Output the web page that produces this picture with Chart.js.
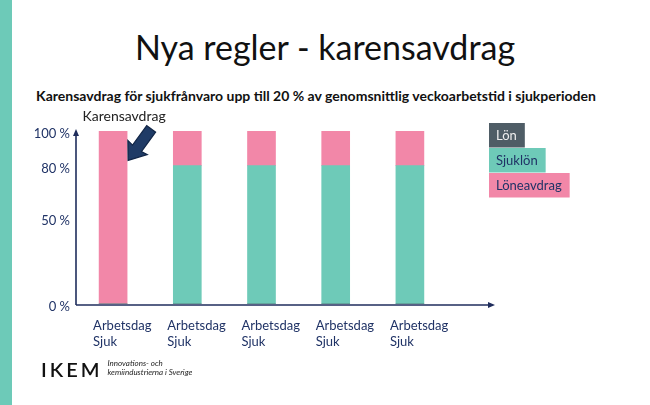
<!DOCTYPE html>
<html lang="sv">
<head>
<meta charset="UTF-8">
<title>Nya regler - karensavdrag</title>
<script src="https://cdn.jsdelivr.net/npm/chart.js"></script>
<style>
    body {
        margin: 0;
        width: 650px;
        height: 405px;
        position: relative;
        overflow: hidden;
        background: #fff;
        font-family: Lato, "Open Sans", sans-serif;
    }
    .stripe {
        position: absolute;
        left: 0; top: 0;
        width: 12px; height: 405px;
        background: #6dcab8;
    }
    h1 {
        position: absolute;
        left: 0; top: 26px;
        width: 650px;
        margin: 0;
        text-align: center;
        font-weight: normal;
        font-size: 34px;
        color: #111;
    }
    h2 {
        position: absolute;
        left: 32px; top: 87px;
        width: 568px;
        margin: 0;
        text-align: center;
        font-size: 14px;
        font-weight: bold;
        color: #111;
        white-space: nowrap;
    }
    #chart {
        position: absolute;
        left: 0; top: 0;
    }
    .logo {
        position: absolute;
        left: 41px; top: 357px;
        display: flex;
        align-items: center;
    }
    .logo .name {
        font-size: 20px;
        font-weight: 600;
        letter-spacing: 3px;
        color: #111;
    }
    .logo .tag {
        margin-left: 5px;
        margin-top: -3px;
        font-size: 8px;
        font-style: italic;
        line-height: 9px;
        color: #222;
    }
</style>
</head>
<body>
    <div class="stripe"></div>
    <h1>Nya regler - karensavdrag</h1>
    <h2>Karensavdrag för sjukfrånvaro upp till 20 % av genomsnittlig veckoarbetstid i sjukperioden</h2>
    <canvas id="chart" width="650" height="405"></canvas>
    <div class="logo">
        <span class="name">IKEM</span>
        <span class="tag">Innovations- och<br>kemiindustrierna i Sverige</span>
    </div>

<script>
    // data
    var categories = [['Arbetsdag', 'Sjuk'], ['Arbetsdag', 'Sjuk'], ['Arbetsdag', 'Sjuk'], ['Arbetsdag', 'Sjuk'], ['Arbetsdag', 'Sjuk']];
    var lon = [0, 0, 0, 0, 0];
    var sjuklon = [0, 80, 80, 80, 80];
    var loneavdrag = [100, 20, 20, 20, 20];
    var yTicks = [0, 50, 80, 100];
    var arrowLabel = 'Karensavdrag';

    var navy = '#1f2d5c';
    var textNavy = '#203366';

    // axes with arrow heads, the "Karensavdrag" pointer and the boxed legend
    var slidePlugin = {
        id: 'slide',
        afterDraw: function(chart) {
            var ctx = chart.ctx;
            var a = chart.chartArea;
            var x = chart.scales.x;
            var y = chart.scales.y;
            ctx.save();

            // y axis
            var ax = a.left;
            var base = a.bottom + 1;
            var top = y.getPixelForValue(100);
            ctx.strokeStyle = navy;
            ctx.fillStyle = navy;
            ctx.lineWidth = 1.6;
            ctx.beginPath();
            ctx.moveTo(ax, base);
            ctx.lineTo(ax, top + 3);
            ctx.stroke();
            ctx.beginPath();
            ctx.moveTo(ax, top - 2);
            ctx.lineTo(ax - 3, top + 5);
            ctx.lineTo(ax + 3, top + 5);
            ctx.closePath();
            ctx.fill();

            // x axis, runs past the last bar
            var xEnd = a.right + 46;
            ctx.beginPath();
            ctx.moveTo(ax, base);
            ctx.lineTo(xEnd - 4, base);
            ctx.stroke();
            ctx.beginPath();
            ctx.moveTo(xEnd + 2, base);
            ctx.lineTo(xEnd - 5, base - 3);
            ctx.lineTo(xEnd - 5, base + 3);
            ctx.closePath();
            ctx.fill();

            // label + thick arrow pointing at the first bar
            var bar0 = x.getPixelForValue(0);
            ctx.fillStyle = '#222';
            ctx.font = '14px Lato, "Open Sans", sans-serif';
            ctx.textAlign = 'center';
            ctx.textBaseline = 'middle';
            ctx.fillText(arrowLabel, bar0 + 11, a.top - 15);

            var tipX = bar0 + 15;
            var tipY = y.getPixelForValue(83);
            ctx.translate(tipX, tipY);
            ctx.rotate(Math.atan2(-30, 22));
            ctx.beginPath();
            ctx.moveTo(0, 0);
            ctx.lineTo(16, -12);
            ctx.lineTo(15, -5.5);
            ctx.lineTo(39, -5.5);
            ctx.lineTo(39, 5.5);
            ctx.lineTo(15, 5.5);
            ctx.lineTo(16, 12);
            ctx.closePath();
            ctx.fillStyle = '#1f3b66';
            ctx.strokeStyle = '#122647';
            ctx.lineWidth = 1.2;
            ctx.fill();
            ctx.stroke();
            ctx.setTransform(1, 0, 0, 1, 0, 0);

            // boxed legend on the right
            var items = [
                { label: 'Lön', bg: '#4f5d66', fg: '#eeeeee' },
                { label: 'Sjuklön', bg: '#6ecab8', fg: textNavy },
                { label: 'Löneavdrag', bg: '#f287a8', fg: textNavy }
            ];
            var lx = a.right + 42;
            var ly = 123;
            ctx.font = '13px Lato, "Open Sans", sans-serif';
            ctx.textAlign = 'left';
            items.forEach(function(it, i) {
                var w = ctx.measureText(it.label).width + 15;
                ctx.fillStyle = it.bg;
                ctx.fillRect(lx, ly + i * 25, w, 24.5);
                ctx.fillStyle = it.fg;
                ctx.fillText(it.label, lx + 7, ly + i * 25 + 13);
            });
            ctx.restore();
        }
    };

    var ctx = document.getElementById('chart').getContext('2d');
    var chart = new Chart(ctx, {
        type: 'bar',
        data: {
            labels: categories,
            datasets: [
                { label: 'Lön', data: lon, backgroundColor: '#4f5d66' },
                { label: 'Sjuklön', data: sjuklon, backgroundColor: '#6ecab8' },
                { label: 'Löneavdrag', data: loneavdrag, backgroundColor: '#f287a8' }
            ]
        },
        options: {
            responsive: false,
            animation: false,
            layout: { padding: { left: 26, top: 131, right: 203, bottom: 41 } },
            datasets: { bar: { barThickness: 28, borderWidth: 0 } },
            plugins: {
                legend: { display: false },
                tooltip: { enabled: false }
            },
            scales: {
                x: {
                    stacked: true,
                    grid: { display: false, drawTicks: false },
                    border: { display: false },
                    afterFit: function(scale) { scale.height = 60; },
                    ticks: {
                        align: 'start',
                        labelOffset: -20,
                        padding: 14,
                        color: textNavy,
                        font: { family: 'Lato, "Open Sans", sans-serif', size: 13 }
                    }
                },
                y: {
                    stacked: true,
                    min: 0,
                    max: 100,
                    grid: { display: false, drawTicks: false },
                    border: { display: false },
                    afterFit: function(scale) { scale.width = 50; },
                    afterBuildTicks: function(scale) {
                        scale.ticks = yTicks.map(function(v) { return { value: v }; });
                    },
                    ticks: {
                        padding: 6,
                        labelOffset: 3,
                        color: textNavy,
                        font: { family: 'Lato, "Open Sans", sans-serif', size: 13 },
                        callback: function(v) { return v + ' %'; }
                    }
                }
            }
        },
        plugins: [slidePlugin]
    });
</script>
</body>
</html>
